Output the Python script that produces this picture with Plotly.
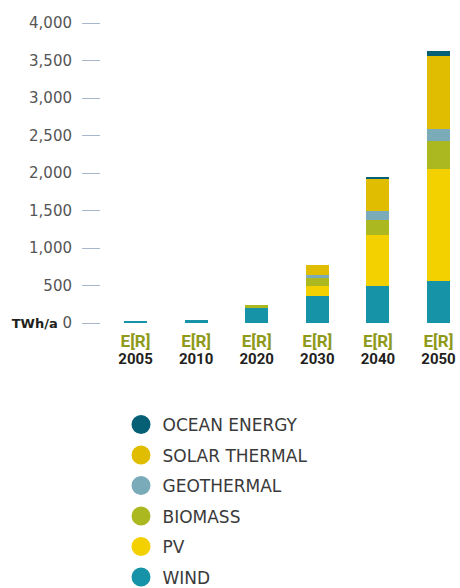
import plotly.graph_objects as go

categories = ["2005", "2010", "2020", "2030", "2040", "2050"]
scenario = "E[R]"

wind = [30, 45, 200, 360, 500, 560]
pv = [0, 0, 0, 133, 667, 1493]
biomass = [0, 0, 40, 107, 213, 373]
geothermal = [0, 0, 0, 40, 107, 160]
solar_thermal = [0, 0, 0, 133, 427, 973]
ocean = [0, 0, 0, 0, 27, 67]

series = [
    ("WIND", wind, "#1793a8"),
    ("PV", pv, "#f3d100"),
    ("BIOMASS", biomass, "#acb81f"),
    ("GEOTHERMAL", geothermal, "#7aabb9"),
    ("SOLAR THERMAL", solar_thermal, "#e0bd00"),
    ("OCEAN ENERGY", ocean, "#055f75"),
]

y_ticks = [0, 500, 1000, 1500, 2000, 2500, 3000, 3500, 4000]
y_ticktext = ["<b><span style='color:#231f20;font-size:13px'>TWh/a</span></b> 0", "500", "1,000", "1,500",
              "2,000", "2,500", "3,000", "3,500", "4,000"]

x_pos = list(range(len(categories)))
x_range = [-0.57, 5.355]

fig = go.Figure()
for name, vals, color in series:
    fig.add_trace(go.Bar(
        x=x_pos, y=vals, name=name, marker=dict(color=color, line=dict(width=0)),
        width=0.38, showlegend=False,
    ))
for name, vals, color in reversed(series):
    fig.add_trace(go.Scatter(
        x=[None], y=[None], mode="markers", name=name, legendgroup=name,
        marker=dict(symbol="circle", size=16, color=color, line=dict(color=color, width=3)),
        showlegend=True,
    ))
# year labels on a second, overlaid x axis
fig.add_trace(go.Scatter(x=[None], y=[None], xaxis="x2", showlegend=False, hoverinfo="skip"))

fig.update_layout(
    width=460, height=588,
    margin=dict(l=101, r=0, t=23, b=264.5, autoexpand=False),
    barmode="stack",
    plot_bgcolor="white", paper_bgcolor="white",
    font=dict(family="DejaVu Sans", color="#555555"),
    showlegend=True,
    legend=dict(
        traceorder="grouped",
        xref="container", yref="container",
        x=0.2598, y=0.308, xanchor="left", yanchor="top",
        font=dict(family="DejaVu Sans", size=17, color="#3a3a3a"),
        tracegroupgap=5.4, itemwidth=33,
        bgcolor="rgba(0,0,0,0)",
    ),
    xaxis=dict(
        tickmode="array", tickvals=x_pos, ticktext=[scenario] * len(categories),
        range=x_range, showgrid=False, showline=False, zeroline=False,
        ticks="", tickfont=dict(family="Roboto", size=17, color="#8f9a1b", weight="bold"),
        tickangle=0, automargin=False, fixedrange=True, ticklabelstandoff=6,
    ),
    xaxis2=dict(
        tickmode="array", tickvals=x_pos, ticktext=categories,
        range=x_range, overlaying="x", side="bottom", anchor="y",
        showgrid=False, showline=False, zeroline=False,
        ticks="", tickfont=dict(family="Roboto", size=15, color="#231f20", weight="bold"),
        tickangle=0, automargin=False, fixedrange=True, ticklabelstandoff=25,
    ),
    yaxis=dict(
        tickmode="array", tickvals=y_ticks, ticktext=y_ticktext,
        range=[0, 4000], showgrid=False, showline=False, zeroline=False,
        ticks="outside", ticklen=18, tickwidth=1, tickcolor="#a8b8cc",
        ticklabelstandoff=7, automargin=False,
        tickfont=dict(family="DejaVu Sans", size=15, color="#555555"),
    ),
)

fig.write_html("out.html")
